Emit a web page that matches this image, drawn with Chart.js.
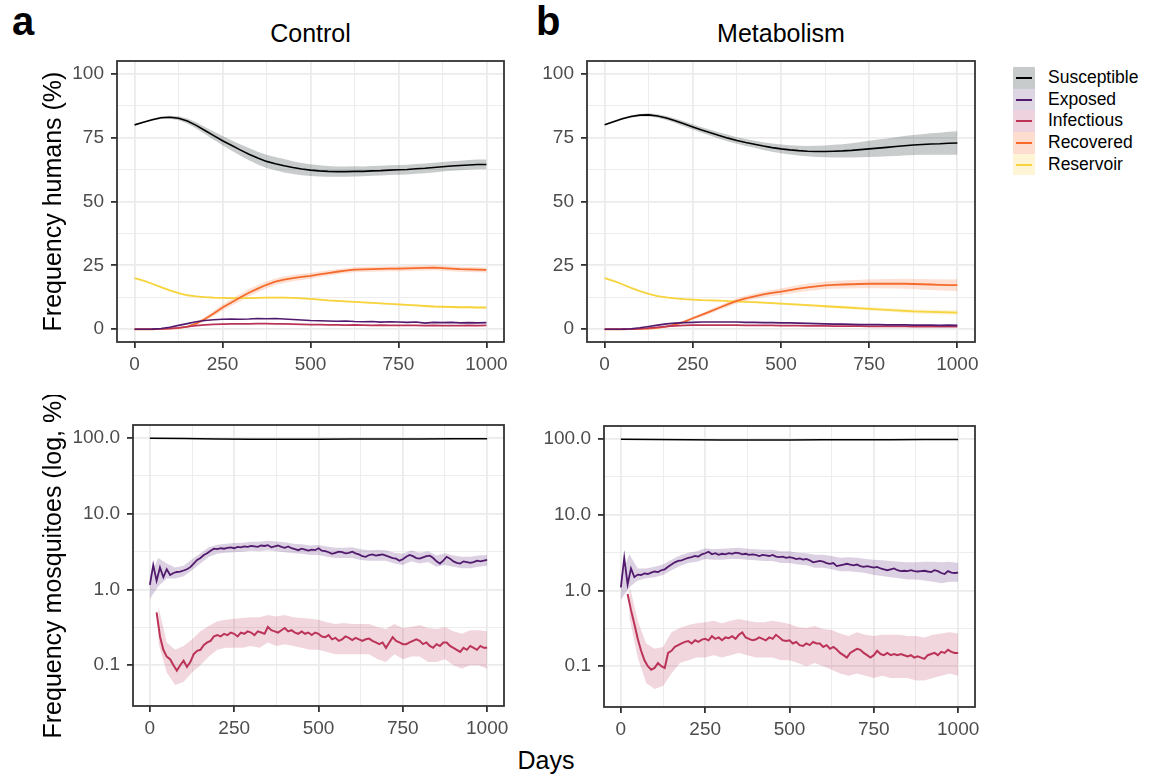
<!DOCTYPE html>
<html>
<head>
<meta charset="utf-8">
<script src="https://cdn.jsdelivr.net/npm/chart.js@4.4.1/dist/chart.umd.min.js"></script>
<style>
  html, body { margin: 0; padding: 0; background: #fff; }
  #page { position: relative; width: 1159px; height: 776px; overflow: hidden;
          font-family: 'Liberation Sans', Arial, Helvetica, sans-serif; }
  .pane { position: absolute; }
  .txt { position: absolute; white-space: nowrap; color: #000; }
  .letter { font-weight: bold; font-size: 40px; line-height: 40px; }
  .title { font-size: 25px; line-height: 25px; text-align: center; }
  .legend { position: absolute; left: 1013px; top: 67px; }
  .lrow { position: relative; height: 21.7px; }
  .lkey { position: absolute; left: 0; top: 0; width: 22px; height: 21.7px; }
  .lkey i { position: absolute; left: 3px; top: 10px; width: 16px; height: 2px; }
  .llab { position: absolute; left: 35px; top: 0; font-size: 17.5px; line-height: 21.7px; }
</style>
</head>
<body>
<div id="page">
  <div class="txt letter" style="left:12px; top:1px;">a</div>
  <div class="txt letter" style="left:536px; top:1px;">b</div>
  <div class="txt title" style="left:117px; width:387px; top:21px;">Control</div>
  <div class="txt title" style="left:587px; width:388px; top:21px;">Metabolism</div>
  <div class="txt title" style="left:446px; width:200px; top:748px;">Days</div>

  <div class="pane" style="left:0; top:0;"><canvas id="tl" width="530" height="390"></canvas></div>
  <div class="pane" style="left:520px; top:0;"><canvas id="tr" width="481" height="390"></canvas></div>
  <div class="pane" style="left:0; top:395px;"><canvas id="bl" width="530" height="381"></canvas></div>
  <div class="pane" style="left:520px; top:395px;"><canvas id="br" width="481" height="381"></canvas></div>

  <div class="legend" id="legend"></div>
</div>

<script>
// ---- data ----
const humanDays = Array.from({length: 41}, (_, i) => i * 25);   // 0..1000 step 25
const mosqDays = Array.from({length: 101}, (_, i) => i * 10);   // 0..1000 step 10
const mosqSDays = [0, 100, 200, 300, 400, 500, 600, 700, 800, 900, 1000];

const seriesNames = ['Susceptible', 'Exposed', 'Infectious', 'Recovered', 'Reservoir'];

// humans, control
const ctrlS = [80.0,81.0,82.0,82.8,83.0, 82.6,81.5,79.8,77.8,75.8, 73.8,72.0,70.2,68.5,67.0, 65.7,64.8,64.0,63.3,62.7,
  62.3,62.0,61.8,61.7,61.7, 61.8,61.8,62.0,62.1,62.3, 62.4,62.5,62.8,63.0,63.3, 63.6,63.9,64.1,64.3,64.5, 64.5];
const ctrlSSpread = [0.2,0.3,0.4,0.5,0.6, 0.8,1.0,1.2,1.4,1.6, 1.8,2.0,2.2,2.4,2.5, 2.6,2.6,2.6,2.5,2.4,
  2.3,2.2,2.1,2.0,2.0, 2.0,1.9,1.9,1.9,1.9, 1.9,1.9,1.9,1.9,1.9, 1.9,1.9,1.9,1.9,1.9, 1.9];
const ctrlE = [0,0,0.05,0.3,0.8, 1.5,2.2,2.9,3.4,3.7, 3.9,4.0,3.9,4.0,4.2, 4.1,4.2,4.0,3.8,3.6,
  3.4,3.3,3.2,3.1,3.2, 3.0,2.9,3.0,2.8,2.9, 2.8,2.7,2.8,2.4,2.7, 2.6,2.7,2.5,2.6,2.5, 2.6];
const ctrlI = [0,0,0,0.1,0.3, 0.6,1.0,1.4,1.7,1.9, 2.0,2.1,2.1,2.1,2.2, 2.2,2.1,2.1,2.0,1.9,
  1.8,1.8,1.7,1.7,1.6, 1.7,1.6,1.5,1.6,1.5, 1.5,1.5,1.5,1.4,1.5, 1.4,1.4,1.4,1.5,1.4, 1.5];
const ctrlR = [0,0,0,0.1,0.2, 0.4,1.0,2.2,4.0,6.2, 8.5,10.5,12.4,14.3,15.9, 17.4,18.6,19.4,20.0,20.5,
  20.9,21.5,22.0,22.5,22.9, 23.3,23.4,23.5,23.6,23.7, 23.7,23.8,23.9,24.0,24.1, 23.9,23.7,23.5,23.4,23.3, 23.2];
const ctrlRSpread = [0,0,0,0.05,0.1, 0.2,0.4,0.6,0.8,1.0, 1.2,1.3,1.4,1.4,1.4, 1.4,1.3,1.3,1.2,1.2,
  1.1,1.1,1.1,1.0,1.0, 1.0,1.0,1.0,1.0,1.0, 1.0,1.0,1.0,1.0,1.0, 1.0,1.0,1.0,1.0,1.0, 1.0];
const ctrlRes = [20.0,19.0,17.8,16.5,15.2, 14.1,13.3,12.9,12.6,12.4, 12.3,12.2,12.2,12.2,12.3, 12.4,12.4,12.4,12.3,12.1,
  11.9,11.6,11.3,11.1,10.9, 10.7,10.5,10.3,10.1,9.9, 9.7,9.5,9.3,9.1,8.9, 8.8,8.7,8.6,8.6,8.5, 8.5];
const ctrlResSpread = [0,0.1,0.1,0.1,0.2, 0.2,0.2,0.2,0.3,0.3, 0.3,0.3,0.3,0.3,0.3, 0.3,0.3,0.3,0.3,0.3,
  0.3,0.3,0.3,0.3,0.3, 0.3,0.3,0.3,0.3,0.3, 0.4,0.4,0.4,0.4,0.4, 0.4,0.4,0.4,0.4,0.4, 0.4];

// humans, metabolism
const metabS = [80.0,81.2,82.4,83.3,83.8, 83.9,83.5,82.7,81.6,80.4, 79.2,78.0,76.9,75.8,74.8, 73.9,73.1,72.4,71.7,71.1,
  70.6,70.2,69.9,69.7,69.6, 69.6,69.7,69.8,70.0,70.3, 70.6,70.9,71.2,71.5,71.8, 72.1,72.3,72.5,72.6,72.8, 72.9];
const metabSSpread = [0.2,0.3,0.4,0.5,0.5, 0.6,0.7,0.8,0.9,1.0, 1.0,1.1,1.2,1.2,1.3, 1.3,1.4,1.4,1.5,1.6,
  1.7,1.8,1.9,2.0,2.2, 2.3,2.5,2.6,2.8,3.0, 3.2,3.4,3.5,3.7,3.8, 3.9,4.0,4.2,4.3,4.5, 4.6];
const metabE = [0,0,0.05,0.2,0.6, 1.1,1.6,2.1,2.4,2.6, 2.7,2.8,2.8,2.8,2.8, 2.8,2.7,2.7,2.6,2.6,
  2.5,2.5,2.4,2.3,2.2, 2.1,2.0,2.0,1.9,1.8, 1.8,1.8,1.7,1.7,1.7, 1.6,1.6,1.6,1.5,1.6, 1.5];
const metabI = [0,0,0,0.05,0.2, 0.5,0.8,1.1,1.3,1.5, 1.6,1.6,1.6,1.6,1.6, 1.6,1.5,1.5,1.5,1.5,
  1.4,1.4,1.4,1.3,1.3, 1.3,1.2,1.2,1.2,1.2, 1.1,1.1,1.1,1.1,1.1, 1.0,1.0,1.0,1.0,1.0, 1.0];
const metabR = [0,0,0,0.05,0.1, 0.2,0.5,1.0,1.8,2.9, 4.3,5.6,7.0,8.4,9.8, 11.1,12.1,12.9,13.6,14.2,
  14.7,15.3,15.9,16.4,16.8, 17.2,17.4,17.5,17.6,17.7, 17.8,17.8,17.8,17.8,17.8, 17.7,17.6,17.5,17.4,17.3, 17.3];
const metabRSpread = [0,0,0,0.05,0.1, 0.1,0.2,0.3,0.4,0.5, 0.6,0.7,0.8,0.9,1.0, 1.0,1.1,1.1,1.2,1.2,
  1.3,1.3,1.4,1.4,1.5, 1.5,1.6,1.6,1.7,1.7, 1.8,1.8,1.9,1.9,2.0, 2.0,2.1,2.1,2.2,2.2, 2.3];
const metabRes = [20.0,18.9,17.6,16.2,14.9, 13.8,13.0,12.5,12.1,11.8, 11.6,11.4,11.3,11.2,11.0, 10.9,10.7,10.6,10.4,10.2,
  10.0,9.8,9.6,9.4,9.2, 9.0,8.8,8.6,8.4,8.2, 8.0,7.8,7.6,7.4,7.2, 7.0,6.9,6.8,6.7,6.6, 6.5];
const metabResSpread = [0,0.1,0.1,0.1,0.2, 0.2,0.2,0.2,0.3,0.3, 0.3,0.3,0.3,0.3,0.3, 0.4,0.4,0.4,0.4,0.4,
  0.4,0.5,0.5,0.5,0.5, 0.5,0.6,0.6,0.6,0.6, 0.7,0.7,0.7,0.7,0.8, 0.8,0.8,0.8,0.9,0.9, 0.9];

// mosquitoes, control (10-day steps)
const ctrlMosqS = [98.8,98.2,96.4,96.0,95.9,96.2,96.5,96.8,97.0,97.3,97.3];
const ctrlMosqE = [
  1.15,2.1,1.3,1.95,1.45,1.85,1.55,1.65,1.7,1.72,
  1.78,1.85,1.97,2.2,2.45,2.6,2.85,3.0,3.25,3.45,
  3.4,3.5,3.45,3.55,3.6,3.5,3.65,3.6,3.7,3.65,
  3.75,3.7,3.65,3.8,3.75,3.85,3.6,3.7,3.8,3.65,
  3.55,3.7,3.5,3.4,3.3,3.45,3.35,3.25,3.35,3.3,
  3.5,3.25,3.2,3.1,2.95,3.05,3.15,3.1,3.0,3.05,
  3.15,3.0,2.9,2.75,2.7,2.85,2.9,2.8,2.85,2.9,
  2.8,2.7,2.6,2.55,2.4,2.5,2.7,2.85,2.75,2.6,
  2.55,2.65,2.75,2.8,2.6,2.35,2.2,2.4,2.7,2.55,
  2.35,2.25,2.2,2.35,2.3,2.25,2.3,2.4,2.35,2.4,
  2.45];
const ctrlMosqI = [
  null,null,0.5,0.24,0.16,0.13,0.12,0.1,0.085,0.1,
  0.115,0.095,0.11,0.14,0.155,0.16,0.185,0.2,0.21,0.24,
  0.25,0.24,0.26,0.25,0.27,0.26,0.24,0.27,0.26,0.28,
  0.27,0.25,0.28,0.27,0.26,0.32,0.29,0.28,0.27,0.29,
  0.31,0.28,0.29,0.27,0.26,0.28,0.26,0.27,0.25,0.27,
  0.26,0.24,0.235,0.25,0.22,0.23,0.21,0.22,0.24,0.23,
  0.215,0.23,0.22,0.21,0.22,0.225,0.21,0.2,0.19,0.2,
  0.17,0.2,0.235,0.21,0.2,0.19,0.19,0.2,0.21,0.22,
  0.21,0.19,0.2,0.18,0.17,0.19,0.18,0.2,0.2,0.18,
  0.17,0.16,0.15,0.17,0.16,0.18,0.17,0.16,0.18,0.17,
  0.17];
// ribbons on the 25-day grid
const ctrlMosqELo = [0.75,1.1,1.4,1.4,1.5, 1.8,2.2,2.7,2.95,3.05, 3.1,3.15,3.25,3.2,3.3, 3.2,3.1,3.0,2.95,2.85,
  2.85,2.7,2.6,2.6,2.6, 2.45,2.4,2.4,2.4,2.2, 2.1,2.35,2.2,2.3,2.0, 2.1,2.0,1.9,1.9,2.0, 2.05];
const ctrlMosqEHi = [1.5,2.6,2.2,1.95,2.05, 2.5,3.0,3.6,3.9,4.0, 4.1,4.15,4.25,4.25,4.4, 4.3,4.2,4.0,3.95,3.8,
  3.85,3.7,3.55,3.55,3.6, 3.4,3.3,3.35,3.3,3.05, 2.95,3.3,3.05,3.2,2.8, 3.0,2.8,2.7,2.7,2.8, 2.85];
const ctrlMosqILo = [null,0.2,0.08,0.055,0.06, 0.08,0.1,0.13,0.16,0.17, 0.17,0.17,0.18,0.17,0.2, 0.18,0.19,0.18,0.17,0.16,
  0.16,0.15,0.14,0.14,0.14, 0.14,0.14,0.12,0.11,0.14, 0.12,0.13,0.13,0.11,0.11, 0.12,0.1,0.09,0.1,0.1, 0.09];
const ctrlMosqIHi = [null,0.6,0.2,0.16,0.18, 0.22,0.28,0.33,0.38,0.4, 0.41,0.42,0.43,0.43,0.46, 0.44,0.46,0.43,0.42,0.41,
  0.4,0.37,0.35,0.36,0.35, 0.35,0.35,0.32,0.3,0.35, 0.31,0.32,0.34,0.31,0.3, 0.32,0.28,0.26,0.29,0.29, 0.28];

// mosquitoes, metabolism
const metabMosqS = [98.9,98.1,97.1,96.7,96.8,97.0,97.3,97.6,97.8,98.0,98.1];
const metabMosqE = [
  1.1,2.7,1.2,1.95,1.5,1.62,1.6,1.68,1.65,1.72,
  1.78,1.75,1.85,1.9,2.05,2.2,2.35,2.45,2.5,2.6,
  2.7,2.75,2.85,2.8,3.0,3.1,3.25,3.0,3.1,2.95,
  3.05,3.0,3.1,3.05,3.15,3.1,3.0,3.05,2.95,3.0,
  2.95,2.85,2.95,2.9,2.85,2.95,2.8,2.75,2.8,2.7,
  2.75,2.7,2.6,2.65,2.55,2.6,2.5,2.35,2.4,2.45,
  2.4,2.3,2.25,2.3,2.1,2.15,2.2,2.25,2.2,2.15,
  2.2,2.1,2.05,2.1,2.05,2.0,2.05,1.95,1.9,1.85,
  1.9,1.95,1.85,1.8,1.82,1.8,1.85,1.8,1.78,1.8,
  1.82,1.78,1.75,1.85,1.8,1.7,1.65,1.8,1.72,1.7,
  1.72];
const metabMosqI = [
  null,null,0.9,0.55,0.36,0.23,0.16,0.12,0.1,0.09,
  0.095,0.11,0.1,0.095,0.15,0.16,0.18,0.19,0.2,0.21,
  0.215,0.2,0.22,0.21,0.225,0.23,0.22,0.25,0.23,0.24,
  0.22,0.24,0.235,0.25,0.23,0.26,0.28,0.24,0.23,0.22,
  0.225,0.24,0.23,0.22,0.24,0.23,0.26,0.24,0.22,0.215,
  0.22,0.2,0.21,0.19,0.185,0.2,0.19,0.21,0.2,0.2,
  0.18,0.19,0.17,0.18,0.166,0.15,0.14,0.13,0.15,0.16,
  0.17,0.165,0.15,0.14,0.13,0.14,0.16,0.145,0.14,0.15,
  0.14,0.145,0.14,0.145,0.14,0.135,0.14,0.13,0.135,0.13,
  0.125,0.14,0.145,0.15,0.14,0.155,0.15,0.165,0.155,0.15,
  0.15];
const metabMosqELo = [0.75,1.1,1.35,1.45,1.5, 1.6,1.85,2.1,2.3,2.4, 2.6,2.55,2.55,2.6,2.6, 2.55,2.5,2.45,2.45,2.3,
  2.3,2.2,2.15,2.0,2.0, 1.9,1.8,1.8,1.75,1.7, 1.6,1.55,1.5,1.45,1.4, 1.4,1.35,1.3,1.25,1.3, 1.3];
const metabMosqEHi = [1.5,3.0,1.95,1.95,2.05, 2.2,2.55,2.9,3.15,3.3, 3.6,3.5,3.55,3.6,3.65, 3.55,3.5,3.45,3.45,3.3,
  3.3,3.15,3.1,2.95,2.95, 2.85,2.7,2.75,2.7,2.6, 2.55,2.5,2.45,2.4,2.35, 2.35,2.4,2.4,2.35,2.4, 2.3];
const metabMosqILo = [null,0.45,0.13,0.06,0.05, 0.055,0.08,0.11,0.12,0.13, 0.13,0.14,0.13,0.14,0.15, 0.14,0.13,0.13,0.13,0.12,
  0.12,0.11,0.1,0.11,0.1, 0.09,0.08,0.075,0.08,0.075, 0.07,0.075,0.07,0.07,0.07, 0.065,0.065,0.07,0.075,0.08, 0.075];
const metabMosqIHi = [null,1.2,0.4,0.2,0.17, 0.18,0.28,0.32,0.35,0.37, 0.38,0.4,0.37,0.4,0.42, 0.4,0.38,0.38,0.4,0.38,
  0.36,0.33,0.32,0.34,0.31, 0.3,0.27,0.25,0.28,0.26, 0.25,0.26,0.26,0.26,0.25, 0.25,0.24,0.26,0.27,0.28, 0.27];

// axis ticks
const xTicks = [0, 125, 250, 375, 500, 625, 750, 875, 1000];
const humanTicks = [0, 12.5, 25, 37.5, 50, 62.5, 75, 87.5, 100];
const mosqTicks = [0.1, 0.316, 1, 3.16, 10, 31.6, 100];
const mosqMajor = [0.1, 1, 10, 100];

// ---- styling ----
const FONT = "'Liberation Sans', Arial, Helvetica, sans-serif";
const lineCols = ['#000000', '#521a6e', '#bb3458', '#f66b2c', '#f7d33c'];
const bandCols = ['rgba(10,25,25,0.22)', 'rgba(82,26,110,0.2)', 'rgba(187,52,88,0.2)',
                  'rgba(246,107,44,0.2)', 'rgba(247,211,60,0.22)'];
const legendBoxes = ['#c8cbcb', '#ddd5e2', '#eed2dd', '#fdddd0', '#fdf5d6'];

const pts = (days, vals) => days.map((d, i) => ({x: d, y: vals[i]}));
const line = (days, vals, k, w) => ({
  data: pts(days, vals), borderColor: lineCols[k], borderWidth: w || 1.6,
  pointRadius: 0, fill: false, order: 1
});
const band = (days, lo, hi, k) => [
  {data: pts(days, hi), borderColor: 'transparent', borderWidth: 0, pointRadius: 0,
   backgroundColor: bandCols[k], fill: '+1', order: 2},
  {data: pts(days, lo), borderColor: 'transparent', borderWidth: 0, pointRadius: 0,
   fill: false, order: 2}
];
const minus = (a, s) => a.map((v, i) => v - s[i]);
const plus = (a, s) => a.map((v, i) => v + s[i]);

const frame = {
  id: 'frame',
  afterDraw(chart) {
    const {ctx, chartArea: a} = chart;
    ctx.save();
    ctx.strokeStyle = '#333333';
    ctx.lineWidth = 1.8;
    ctx.strokeRect(a.left, a.top, a.right - a.left, a.bottom - a.top);
    ctx.restore();
  }
};

function gridFor(isMajor) {
  return {
    color: '#ebebeb',
    lineWidth: c => isMajor(c.tick.value) ? 1.8 : 0.9,
    drawTicks: true,
    tickLength: 6,
    tickWidth: 1.8,
    tickColor: c => isMajor(c.tick.value) ? '#333333' : 'rgba(0,0,0,0)'
  };
}
const tickFont = {family: FONT, size: 19};

function xScale(h) {
  const major = v => v % 250 === 0;
  return {
    type: 'linear', min: -50, max: 1050,
    afterBuildTicks: s => { s.ticks = xTicks.map(v => ({value: v})); },
    afterFit: s => { s.height = h; },
    ticks: {autoSkip: false, maxRotation: 0, color: '#4d4d4d', font: tickFont, padding: 5,
            callback: v => major(v) ? String(v) : ''},
    grid: gridFor(major),
    border: {display: false}
  };
}

function yScale(log, w, title) {
  const major = log ? (v => mosqMajor.some(m => Math.abs(m - v) < 1e-9)) : (v => v % 25 === 0);
  return {
    type: log ? 'logarithmic' : 'linear',
    min: log ? 0.029 : -5, max: log ? 148 : 105,
    afterBuildTicks: s => { s.ticks = (log ? mosqTicks : humanTicks).map(v => ({value: v})); },
    afterFit: s => { s.width = w; },
    ticks: {autoSkip: false, color: '#4d4d4d', font: tickFont, padding: 7,
            callback: v => major(v) ? (log ? v.toFixed(1) : String(v)) : ''},
    grid: gridFor(major),
    border: {display: false},
    title: {display: !!title, text: title || '', color: '#000000',
            font: {family: FONT, size: 25}, padding: {top: 39, bottom: 0}}
  };
}

function panel(id, datasets, o) {
  new Chart(document.getElementById(id), {
    type: 'line',
    data: {datasets},
    options: {
      responsive: false, animation: false, events: [],
      layout: {padding: {top: o.top, right: 26, left: 0, bottom: 0}},
      plugins: {legend: {display: false}, tooltip: {enabled: false}},
      elements: {line: {tension: 0}},
      scales: {x: xScale(o.xh), y: yScale(o.log, o.yw, o.title)}
    },
    plugins: [frame]
  });
}

function humanSets(S, Ss, E, I, R, Rs, Res, Ress) {
  return [
    line(humanDays, S, 0), line(humanDays, E, 1), line(humanDays, I, 2),
    line(humanDays, R, 3, 1.8), line(humanDays, Res, 4, 1.8),
    ...band(humanDays, minus(S, Ss), plus(S, Ss), 0),
    ...band(humanDays, minus(R, Rs), plus(R, Rs), 3),
    ...band(humanDays, minus(Res, Ress), plus(Res, Ress), 4)
  ];
}
function mosqSets(S, E, I, ELo, EHi, ILo, IHi) {
  return [
    line(mosqSDays, S, 0, 1.5), line(mosqDays, E, 1, 1.8), line(mosqDays, I, 2, 2),
    ...band(humanDays, ELo, EHi, 1),
    ...band(humanDays, ILo, IHi, 2)
  ];
}

panel('tl', humanSets(ctrlS, ctrlSSpread, ctrlE, ctrlI, ctrlR, ctrlRSpread, ctrlRes, ctrlResSpread),
      {top: 61, xh: 48, yw: 117, log: false, title: 'Frequency humans (%)'});
panel('tr', humanSets(metabS, metabSSpread, metabE, metabI, metabR, metabRSpread, metabRes, metabResSpread),
      {top: 61, xh: 48, yw: 67, log: false});
panel('bl', mosqSets(ctrlMosqS, ctrlMosqE, ctrlMosqI, ctrlMosqELo, ctrlMosqEHi, ctrlMosqILo, ctrlMosqIHi),
      {top: 30, xh: 70, yw: 133, log: true, title: 'Frequency mosquitoes (log, %)'});
panel('br', mosqSets(metabMosqS, metabMosqE, metabMosqI, metabMosqELo, metabMosqEHi, metabMosqILo, metabMosqIHi),
      {top: 31, xh: 69, yw: 84, log: true});

// legend
const leg = document.getElementById('legend');
seriesNames.forEach((name, k) => {
  const row = document.createElement('div');
  row.className = 'lrow';
  row.innerHTML = '<div class="lkey" style="background:' + legendBoxes[k] + '"><i style="background:' +
    lineCols[k] + '"></i></div><div class="llab">' + name + '</div>';
  leg.appendChild(row);
});
</script>
</body>
</html>
